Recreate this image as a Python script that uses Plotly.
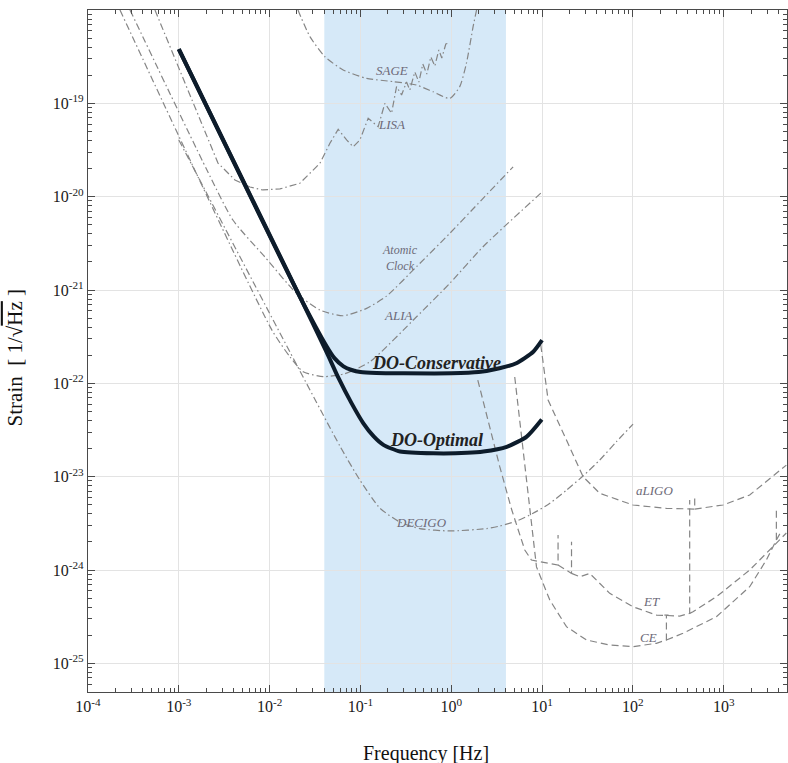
import numpy as np
import plotly.graph_objects as go

# ---------------- data ----------------
cons_f = [0.001, 0.0215, 0.0424, 0.052, 0.065, 0.08, 0.1, 0.15, 0.3, 1.0, 2.0, 3.4, 5.2, 8.0, 10.0]
cons_h = [3.8e-19, 8.5e-22, 2.5e-22, 1.85e-22, 1.52e-22, 1.39e-22, 1.32e-22, 1.29e-22, 1.28e-22,
          1.28e-22, 1.32e-22, 1.45e-22, 1.64e-22, 2.18e-22, 2.9e-22]

opt_f = [0.001, 0.0215, 0.0424, 0.0571, 0.08, 0.1077, 0.14, 0.179, 0.273, 0.635, 1.5, 2.26, 4.08, 6.78, 9.93]
opt_h = [3.8e-19, 8.5e-22, 2.16e-22, 1.15e-22, 6.1e-23, 3.73e-23, 2.7e-23, 2.19e-23, 1.86e-23,
         1.78e-23, 1.8e-23, 1.86e-23, 2.09e-23, 2.69e-23, 4.1e-23]

sage_f = [0.0205, 0.0278, 0.0406, 0.0645, 0.117, 0.229, 0.415, 0.632, 0.964, 1.24, 1.47, 1.74, 1.90]
sage_h = [1e-18, 5.18e-19, 3.16e-19, 2.28e-19, 1.85e-19, 1.71e-19, 1.57e-19, 1.33e-19, 1.13e-19,
          1.51e-19, 2.69e-19, 6.62e-19, 1e-18]

lisa_f = [5.46e-4, 2.7e-3, 4.15e-3, 6.07e-3, 8.43e-3, 0.013, 0.0215, 0.0358, 0.0461, 0.0569, 0.0704,
          0.0832, 0.0986, 0.1216, 0.1567, 0.1857, 0.2201, 0.2498, 0.2836, 0.3218, 0.35, 0.397, 0.44,
          0.486, 0.538, 0.596, 0.659, 0.730, 0.787, 0.871, 0.924]
lisa_h = [1e-18, 2.29e-20, 1.51e-20, 1.27e-20, 1.18e-20, 1.21e-20, 1.39e-20, 2.28e-20, 3.73e-20, 5.27e-20,
          4.05e-20, 3.43e-20, 4.05e-20, 6.91e-20, 5.62e-20, 1.0e-19, 7.82e-20, 1.51e-19, 1.23e-19, 1.69e-19,
          1.39e-19, 2.17e-19, 1.69e-19, 2.64e-19, 2.06e-19, 3.14e-19, 2.51e-19, 3.73e-19, 3.06e-19,
          4.32e-19, 4.4e-19]

clock_f = [2.9e-4, 2.04e-3, 3.94e-3, 8.87e-3, 0.0198, 0.0358, 0.0645, 0.117, 0.194, 0.415, 0.964, 2.15, 4.8]
clock_h = [1e-18, 1.93e-20, 5.62e-21, 2.26e-21, 9.21e-22, 6.1e-22, 5.3e-22, 6.36e-22, 8.6e-22,
           1.78e-21, 4.05e-21, 9.2e-21, 2.09e-20]

alia_f = [2.25e-4, 0.0106, 0.0167, 0.0234, 0.0389, 0.0674, 0.127, 0.415, 0.964, 2.24, 9.68]
alia_h = [1e-18, 3.72e-22, 1.93e-22, 1.33e-22, 1.18e-22, 1.27e-22, 1.70e-22, 5.17e-22, 1.18e-21,
          2.91e-21, 1.09e-20]

decigo_f = [0.001, 0.0594, 0.0986, 0.1636, 0.2716, 0.451, 0.964, 2.46, 3.42, 5.27, 7.96, 12.2, 18.6,
            28.3, 43.2, 65.9, 100.4]
decigo_h = [4.05e-20, 2.13e-23, 9.2e-24, 4.61e-24, 3.27e-24, 2.78e-24, 2.62e-24, 2.78e-24, 2.96e-24,
            3.35e-24, 4.05e-24, 5.18e-24, 7.19e-24, 1.016e-23, 1.51e-23, 2.37e-23, 3.66e-23]

# None = pen lifted after a narrow spike
aligo_f = [9.68, 11.65, 18.56, 28.3, 43.2, 100.4, 234, 388, 479.5, 479.5, None, 479.5, 544, 982, 1932, 4896]
aligo_h = [2.57e-22, 6.63e-23, 2.47e-23, 9.98e-24, 6.63e-24, 4.97e-24, 4.58e-24, 4.47e-24, 4.5e-24,
           6.0e-24, None, 4.5e-24, 4.58e-24, 4.97e-24, 6.36e-24, 1.33e-23]

et_f = [1.96, 3.42, 4.64, 6.45, 7.64, 12.2, 15.0, 15.0, None, 15.0, 21.1, 21.1, None, 21.1, 26.0, 33.5,
        55.6, 100.4, 182, 328, 422, 422, None, 422, 459, 831, 1932, 3486, 4896]
et_h = [1.085e-22, 1.28e-23, 4.39e-24, 1.64e-24, 1.28e-24, 1.18e-24, 1.13e-24, 2.37e-24, None, 1.13e-24,
        9.2e-25, 2.01e-24, None, 9.2e-25, 8.47e-25, 9.2e-25, 5.62e-25, 4.04e-25, 3.29e-25, 3.21e-25,
        3.43e-25, 5.62e-24, None, 3.43e-25, 3.57e-25, 5.17e-25, 9.99e-25, 1.78e-24, 2.49e-24]

ce_f = [5.0, 8.68, 12.16, 18.56, 30.8, 55.6, 100.4, 181.6, 234, 234, None, 222, 247, None, 234, 356, 831,
        1932, 2949, 3801, 3801, None, 3801, 4300]
ce_h = [1.17e-22, 1.08e-24, 4.77e-25, 2.47e-25, 1.78e-25, 1.57e-25, 1.51e-25, 1.64e-25, 1.78e-25, 3.29e-25,
        None, 3.29e-25, 3.29e-25, None, 1.78e-25, 2.1e-25, 3.16e-25, 6.62e-25, 1.28e-24, 2.1e-24, 4.4e-24,
        None, 2.1e-24, 2.6e-24]

band = [0.04, 4.0]

xtick_vals = [1e-4, 1e-3, 1e-2, 1e-1, 1e0, 1e1, 1e2, 1e3]
xtick_text = ["10<sup>-4</sup>", "10<sup>-3</sup>", "10<sup>-2</sup>", "10<sup>-1</sup>",
              "10<sup>0</sup>", "10<sup>1</sup>", "10<sup>2</sup>", "10<sup>3</sup>"]
ytick_vals = [1e-25, 1e-24, 1e-23, 1e-22, 1e-21, 1e-20, 1e-19, 1e-18]
ytick_text = ["10<sup>-25</sup>", "10<sup>-24</sup>", "10<sup>-23</sup>", "10<sup>-22</sup>",
              "10<sup>-21</sup>", "10<sup>-20</sup>", "10<sup>-19</sup>", "10<sup>-18</sup>"]

# label positions (f, h) and texts
labels = [
    ("SAGE", 0.22, 2.24e-19, 13),
    ("LISA", 0.22, 6.0e-20, 13),
    ("Atomic<br>Clock", 0.275, 2.2e-21, 12),
    ("ALIA", 0.265, 5.3e-22, 13),
    ("DECIGO", 0.47, 3.24e-24, 13),
    ("aLIGO", 174, 7.07e-24, 13),
    ("ET", 160, 4.65e-25, 13),
    ("CE", 147, 1.9e-25, 13),
]
do_labels = [("DO-Conservative", 0.688, 1.64e-22), ("DO-Optimal", 0.688, 2.47e-23)]

# ---------------- figure ----------------
GRAY = "#858585"
DARK = "#0d1c2b"
DASHDOT = "7px,3px,1.5px,3px"
DASH = "7px,4px"
FONT = "Liberation Serif"

fig = go.Figure()

def add(xs, ys, dash, shape="spline", color=GRAY, width=1.2):
    fig.add_trace(go.Scatter(x=xs, y=ys, mode="lines", showlegend=False, hoverinfo="skip",
                             connectgaps=False,
                             line=dict(color=color, width=width, dash=dash, shape=shape,
                                       smoothing=0.6 if shape == "spline" else None)))

add(sage_f, sage_h, DASHDOT)
add(lisa_f, lisa_h, DASHDOT, shape="linear")
add(clock_f, clock_h, DASHDOT)
add(alia_f, alia_h, DASHDOT)
add(decigo_f, decigo_h, DASHDOT)
add(aligo_f, aligo_h, DASH, shape="linear")
add(et_f, et_h, DASH, shape="linear")
add(ce_f, ce_h, DASH, shape="linear")
add(cons_f, cons_h, "solid", color=DARK, width=4)
add(opt_f, opt_h, "solid", color=DARK, width=4)

fig.add_shape(type="rect", xref="x", yref="paper", x0=band[0], x1=band[1],
              y0=0, y1=1, fillcolor="#d6e9f8", line=dict(width=0), layer="below")

for t, f, h, s in labels:
    fig.add_annotation(x=np.log10(f), y=np.log10(h), text="<i>" + t + "</i>", showarrow=False,
                       font=dict(family=FONT, size=s, color="#6d6a78"))
for t, f, h in do_labels:
    fig.add_annotation(x=np.log10(f), y=np.log10(h), text="<b><i>" + t + "</i></b>", showarrow=False,
                       font=dict(family=FONT, size=18, color="#222"))

minor_x = [k * 10.0 ** e for e in range(-4, 4) for k in range(2, 10) if k * 10.0 ** e < 5000]
minor_y = [k * 10.0 ** e for e in range(-26, -18) for k in range(2, 10) if k * 10.0 ** e > 4.9e-26]

axis_common = dict(type="log", showline=True, linecolor="#4a4a4a", linewidth=1.3, mirror="ticks",
                   ticks="inside", ticklen=7, tickcolor="#4a4a4a", tickwidth=1,
                   showgrid=True, gridcolor="#e3e3e3", gridwidth=1, zeroline=False,
                   tickfont=dict(family=FONT, size=16, color="#1a1a1a"))

fig.update_xaxes(**axis_common, range=[-4, 3.697], tickmode="array", tickvals=xtick_vals,
                 ticktext=xtick_text,
                 minor=dict(tickmode="array", tickvals=minor_x, ticks="inside", ticklen=4,
                            tickcolor="#4a4a4a", showgrid=False))
fig.update_yaxes(**axis_common, range=[-25.307, -18], tickmode="array", tickvals=ytick_vals,
                 ticktext=ytick_text,
                 minor=dict(tickmode="array", tickvals=minor_y, ticks="inside", ticklen=4,
                            tickcolor="#4a4a4a", showgrid=False))

# plot area spans page x 88..787, y 10..692 (body margin removed below)
fig.add_annotation(xref="paper", yref="paper", x=0.4835, y=-0.0896, yanchor="middle",
                   text="Frequency [Hz]", showarrow=False,
                   font=dict(family=FONT, size=20, color="#111"))
fig.add_annotation(xref="paper", yref="paper", x=-0.105, y=0.49, xanchor="center", yanchor="middle",
                   textangle=-90,
                   text="Strain  [ 1/√<span style='text-decoration:overline'>Hz</span> ]",
                   showarrow=False, font=dict(family=FONT, size=21, color="#111"))

fig.update_layout(width=788, height=763, margin=dict(l=88, r=1, t=10, b=71),
                  paper_bgcolor="white", plot_bgcolor="white", showlegend=False)

fig.write_html("out.html", config={"displayModeBar": False},
               post_script="document.body.style.margin='0px';")
